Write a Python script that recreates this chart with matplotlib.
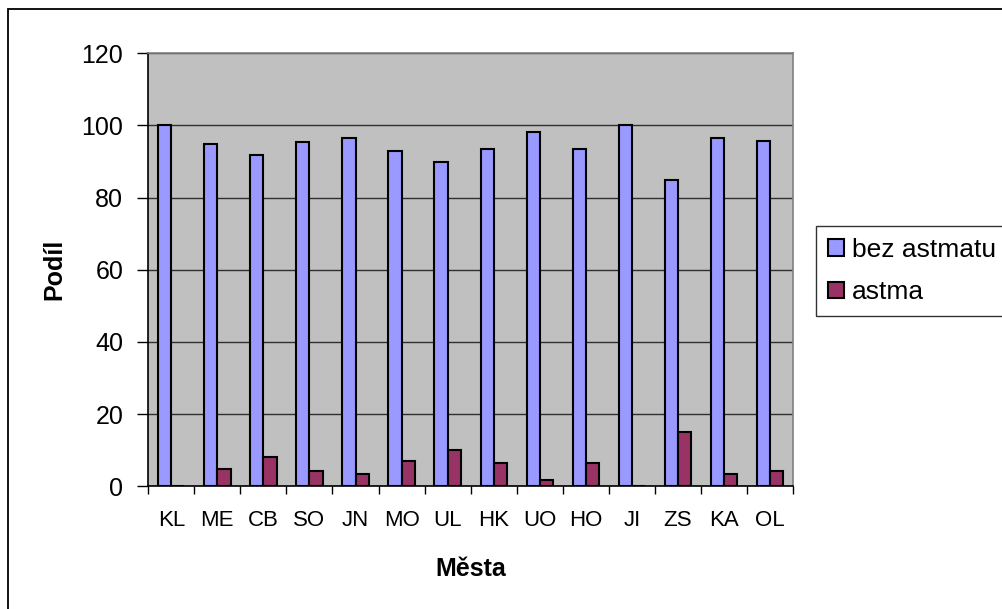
import matplotlib.pyplot as plt
import numpy as np
from matplotlib.patches import Rectangle

plt.rcParams["font.family"] = ["Liberation Sans", "DejaVu Sans"]

CITIES = ["KL", "ME", "CB", "SO", "JN", "MO", "UL", "HK", "UO", "HO", "JI", "ZS", "KA", "OL"]
BEZ_ASTMATU = [100, 94.8, 91.9, 95.5, 96.5, 93.0, 90.0, 93.5, 98.2, 93.5, 100, 85.0, 96.5, 95.8]
ASTMA = [0, 4.8, 8.1, 4.3, 3.5, 7.0, 10.0, 6.5, 1.8, 6.5, 0, 15.0, 3.5, 4.2]

BLUE = "#9999FF"
MAROON = "#993366"
FS = 18


def main():
    fig = plt.figure(figsize=(10.02, 6.09), dpi=100)
    ax = fig.add_axes([0.148, 0.2015, 0.6434, 0.711])
    ax.set_facecolor("#C0C0C0")

    x = np.arange(len(CITIES))
    w = 1 / 3.5
    ax.bar(x - w / 2, BEZ_ASTMATU, width=w, color=BLUE, edgecolor="black",
           linewidth=1.5, label="bez astmatu", zorder=3)
    ax.bar(x + w / 2, ASTMA, width=w, color=MAROON, edgecolor="black",
           linewidth=1.5, label="astma", zorder=3)

    ax.set_xlim(-0.5, len(CITIES) - 0.5)
    ax.set_ylim(0, 120)
    ax.set_yticks(range(0, 121, 20))
    ax.yaxis.grid(True, color="#303030", lw=1.0, zorder=1)

    ax.set_xticks(x)
    ax.set_xticklabels(CITIES)
    ax.set_xticks(np.arange(-0.5, len(CITIES), 1.0), minor=True)
    ax.tick_params(axis="x", which="major", length=0, pad=17, labelsize=16)
    ax.tick_params(axis="x", which="minor", length=6, width=1, direction="out")
    ax.tick_params(axis="y", length=8, width=1, direction="out", pad=10, labelsize=FS)

    for side in ("top", "right"):
        ax.spines[side].set_color("#808080")
        ax.spines[side].set_linewidth(1.2)
    for side in ("left", "bottom"):
        ax.spines[side].set_color("black")
        ax.spines[side].set_linewidth(1.2)

    ax.set_xlabel("Města", fontsize=FS, fontweight="bold", labelpad=19)
    ax.set_ylabel("Podíl", fontsize=FS, fontweight="bold", labelpad=11)

    leg = fig.legend(loc="upper left", bbox_to_anchor=(0.8145, 0.629),
                     fontsize=FS + 1, frameon=True, fancybox=False, edgecolor="black",
                     handlelength=0.6, handleheight=0.6, handletextpad=0.3,
                     labelspacing=0.7, borderpad=0.45, borderaxespad=0)
    leg.get_frame().set_linewidth(1.0)

    # outer chart border (only top and left are visible in the picture)
    fig.add_artist(Rectangle((8 / 1002, -0.2), 1.3, 1.2 - 9.3 / 609,
                             transform=fig.transFigure, fill=False,
                             edgecolor="black", lw=1.3, clip_on=False))

    fig.savefig("out.png", dpi=100)


if __name__ == "__main__":
    main()
